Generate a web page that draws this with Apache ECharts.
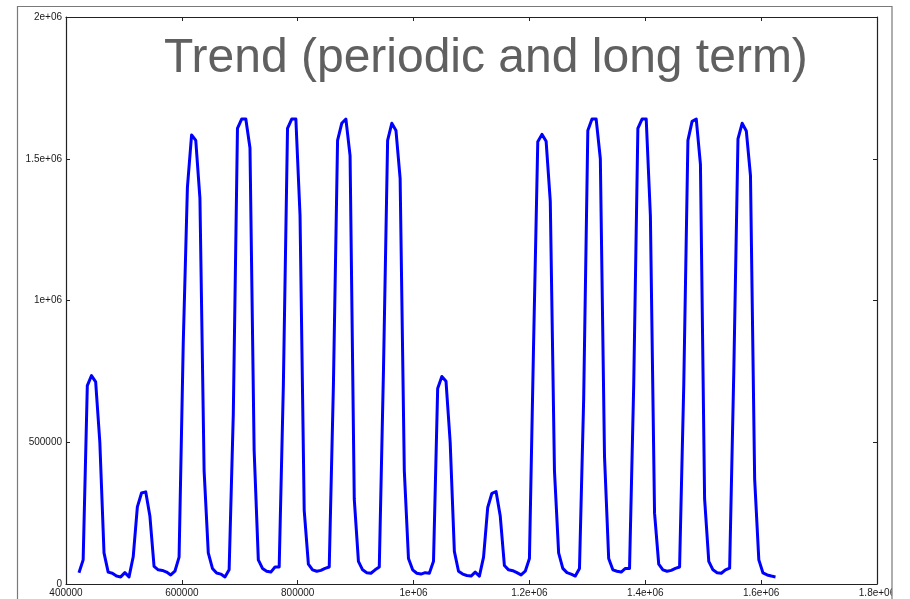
<!DOCTYPE html>
<html>
<head>
<meta charset="utf-8">
<script src="https://cdn.jsdelivr.net/npm/echarts@6/dist/echarts.min.js"></script>
<style>
  html, body { margin: 0; padding: 0; background: #ffffff; }
  #chart { width: 910px; height: 599px; }
</style>
</head>
<body>
<div id="chart"></div>
<script>
// Sample times (seconds), one row per day, 12 samples a day
const sampleTimes = [
  422400, 429600, 436800, 444000, 451200, 458400, 465600, 472800, 480000, 487200, 494400, 501600,
  508800, 516000, 523200, 530400, 537600, 544800, 552000, 559200, 566400, 573600, 580800, 588000,
  595200, 602400, 609600, 616800, 624000, 631200, 638400, 645600, 652800, 660000, 667200, 674400,
  681600, 688800, 696000, 703200, 710400, 717600, 724800, 732000, 739200, 746400, 753600, 760800,
  768000, 775200, 782400, 789600, 796800, 804000, 811200, 818400, 825600, 832800, 840000, 847200,
  854400, 861600, 868800, 876000, 883200, 890400, 897600, 904800, 912000, 919200, 926400, 933600,
  940800, 948000, 955200, 962400, 969600, 976800, 984000, 991200, 998400, 1005600, 1012800, 1020000,
  1027200, 1034400, 1041600, 1048800, 1056000, 1063200, 1070400, 1077600, 1084800, 1092000, 1099200, 1106400,
  1113600, 1120800, 1128000, 1135200, 1142400, 1149600, 1156800, 1164000, 1171200, 1178400, 1185600, 1192800,
  1200000, 1207200, 1214400, 1221600, 1228800, 1236000, 1243200, 1250400, 1257600, 1264800, 1272000, 1279200,
  1286400, 1293600, 1300800, 1308000, 1315200, 1322400, 1329600, 1336800, 1344000, 1351200, 1358400, 1365600,
  1372800, 1380000, 1387200, 1394400, 1401600, 1408800, 1416000, 1423200, 1430400, 1437600, 1444800, 1452000,
  1459200, 1466400, 1473600, 1480800, 1488000, 1495200, 1502400, 1509600, 1516800, 1524000, 1531200, 1538400,
  1545600, 1552800, 1560000, 1567200, 1574400, 1581600, 1588800, 1596000, 1603200, 1610400, 1617600, 1624800
];

// Measured level at each sample time
const levels = [
  40000, 85000, 700000, 735000, 713000, 500000, 110000, 42000, 38000, 28000, 25000, 40000,
  25000, 96000, 272000, 321000, 325000, 240000, 62000, 50000, 48000, 42000, 32000, 45000,
  95000, 850000, 1400000, 1584000, 1565000, 1360000, 400000, 110000, 55000, 39000, 35000, 25000,
  50000, 600000, 1607000, 1640000, 1640000, 1538000, 470000, 85000, 55000, 45000, 42000, 60000,
  60000, 700000, 1607000, 1640000, 1640000, 1300000, 260000, 70000, 50000, 45000, 48000, 55000,
  60000, 700000, 1565000, 1625000, 1640000, 1510000, 300000, 80000, 50000, 40000, 38000, 50000,
  60000, 750000, 1565000, 1625000, 1600000, 1430000, 400000, 90000, 50000, 38000, 35000, 40000,
  38000, 80000, 690000, 732000, 715000, 500000, 115000, 45000, 35000, 30000, 28000, 42000,
  28000, 95000, 270000, 320000, 326000, 240000, 65000, 50000, 47000, 40000, 32000, 45000,
  90000, 850000, 1560000, 1586000, 1562000, 1350000, 400000, 110000, 55000, 40000, 35000, 28000,
  55000, 650000, 1600000, 1640000, 1640000, 1500000, 450000, 90000, 50000, 45000, 42000, 55000,
  55000, 700000, 1607000, 1640000, 1640000, 1300000, 250000, 70000, 50000, 45000, 48000, 55000,
  60000, 700000, 1565000, 1632000, 1640000, 1480000, 300000, 80000, 50000, 40000, 38000, 50000,
  56000, 750000, 1570000, 1625000, 1598000, 1440000, 370000, 85000, 39000, 32000, 28000, 25000
];

// Tick values and their printed labels
const xTickValues = [400000, 600000, 800000, 1000000, 1200000, 1400000, 1600000, 1800000];
const xTickLabels = ['400000', '600000', '800000', '1e+06', '1.2e+06', '1.4e+06', '1.6e+06', '1.8e+06'];
const yTickValues = [0, 500000, 1000000, 1500000, 2000000];
const yTickLabels = ['0', '500000', '1e+06', '1.5e+06', '2e+06'];

const chartTitle = 'Trend (periodic and long term)';

function labelFor(values, labels) {
  return function (v) {
    const i = values.indexOf(v);
    return i >= 0 ? labels[i] : '';
  };
}

const points = sampleTimes.map((t, i) => [t, levels[i]]);

const frameColor = '#222222';
const tickFont = { fontFamily: 'Liberation Sans, Arial, sans-serif', fontSize: 10, color: '#1a1a1a' };

const chart = echarts.init(document.getElementById('chart'), null, { renderer: 'canvas' });

function boxAxis(extra) {
  return Object.assign({
    type: 'value',
    axisLine: { show: true, onZero: false, lineStyle: { color: frameColor, width: 1.2 } },
    axisTick: { show: true, inside: true, length: 4, lineStyle: { color: frameColor, width: 1 } },
    splitLine: { show: false }
  }, extra);
}

chart.setOption({
  animation: false,
  backgroundColor: '#ffffff',
  grid: { left: 66, top: 17, width: 811, height: 567, containLabel: false },
  title: {
    text: chartTitle,
    left: 159,
    top: 30,
    textStyle: { fontFamily: 'Liberation Sans, Arial, sans-serif', fontSize: 48, fontWeight: 'normal', color: '#606060' }
  },
  xAxis: [
    boxAxis({
      position: 'bottom', min: 400000, max: 1800000, interval: 200000,
      axisLabel: Object.assign({ margin: 4, formatter: labelFor(xTickValues, xTickLabels) }, tickFont)
    }),
    boxAxis({
      position: 'top', min: 400000, max: 1800000, interval: 200000,
      axisLabel: { show: false }
    })
  ],
  yAxis: [
    boxAxis({
      position: 'left', min: 0, max: 2000000, interval: 500000,
      axisLabel: Object.assign({ margin: 4, formatter: labelFor(yTickValues, yTickLabels) }, tickFont)
    }),
    boxAxis({
      position: 'right', min: 0, max: 2000000, interval: 500000,
      axisLabel: { show: false }
    })
  ],
  series: [{
    type: 'line',
    data: points,
    xAxisIndex: 0,
    yAxisIndex: 0,
    showSymbol: false,
    symbol: 'none',
    lineStyle: { color: '#0000ff', width: 3, join: 'round' },
    z: 3
  }],
  graphic: [
    // white margin beyond the page frame
    { type: 'rect', z: 100, shape: { x: 892, y: 0, width: 18, height: 599 }, style: { fill: '#ffffff' } },
    // outer page frame
    { type: 'rect', z: 101, shape: { x: 17.5, y: 6.5, width: 874.5, height: 620 }, style: { fill: 'none', stroke: '#7a7a7a', lineWidth: 1.2 } }
  ]
});
</script>
</body>
</html>
